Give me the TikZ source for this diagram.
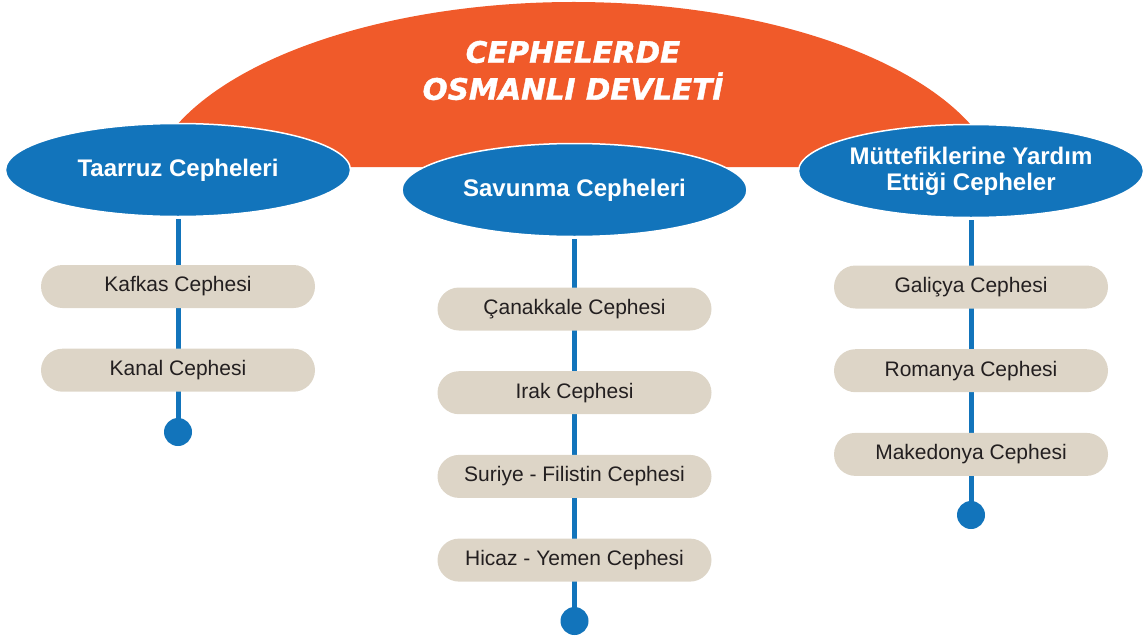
\documentclass[tikz,border=0pt]{standalone}
\usepackage{fontspec}
\setmainfont{Liberation Sans}
\newfontfamily\titlefont[FakeBold=1.3]{DejaVu Sans}
\usepackage{tikz}
\usetikzlibrary{shapes.geometric, positioning, backgrounds}

\definecolor{domeorange}{RGB}{240,90,42}
\definecolor{frontblue}{RGB}{18,116,187}
\definecolor{pillbeige}{RGB}{221,213,199}
\definecolor{pilltext}{RGB}{35,31,32}

\tikzset{
  heading/.style={text=white, align=center, inner sep=0pt,
    font=\titlefont\bfseries\itshape\fontsize{29.5}{37}\selectfont},
  front/.style={ellipse, fill=frontblue, draw=white, line width=1.5pt,
    minimum width=345pt, minimum height=93pt, inner sep=0pt,
    text=white, align=center, font=\bfseries\fontsize{24}{26}\selectfont},
  pill/.style={rectangle, rounded corners=21.5pt, fill=pillbeige,
    minimum width=274pt, minimum height=43pt, inner sep=0pt,
    text=pilltext, font=\fontsize{21}{24}\selectfont},
  stem/.style={frontblue, line width=5pt},
  enddot/.style={circle, fill=frontblue, minimum size=28pt, inner sep=0pt},
}

\begin{document}
\begin{tikzpicture}[x=1pt, y=-1pt]
    \def\rowgap{83.7}
    \useasboundingbox (0,0) rectangle (1147,637);

    % orange dome behind the three fronts
    \fill[domeorange] (151,167) arc[start angle=189.6, end angle=350.4, x radius=429, y radius=198] -- cycle;
    \node[heading] (title) at (573,70.5) {CEPHELERDE\\OSMANLI DEVLETİ};

    \node[front] (attack) at (178,170) {Taarruz Cepheleri};
    \node[front] (defence) at (574.5,190) {Savunma Cepheleri};
    \node[front] (allied) at (971,171) {Müttefiklerine Yardım\\Ettiği Cepheler};

    % taarruz
    \node[pill] (kafkas) at (178,286.5) {Kafkas Cephesi};
    \node[pill] (kanal) at (178,286.5+\rowgap) {Kanal Cephesi};
    \node[enddot] (attackend) at (178,432) {};

    % savunma
    \node[pill] (canakkale) at (574.5,309) {Çanakkale Cephesi};
    \node[pill] (irak) at (574.5,309+\rowgap) {Irak Cephesi};
    \node[pill] (suriye) at (574.5,309+2*\rowgap) {Suriye - Filistin Cephesi};
    \node[pill] (hicaz) at (574.5,309+3*\rowgap) {Hicaz - Yemen Cephesi};
    \node[enddot] (defenceend) at (574.5,621) {};

    % yardim
    \node[pill] (galicya) at (971,287) {Galiçya Cephesi};
    \node[pill] (romanya) at (971,287+\rowgap) {Romanya Cephesi};
    \node[pill] (makedonya) at (971,287+2*\rowgap) {Makedonya Cephesi};
    \node[enddot] (alliedend) at (971,515) {};

    \begin{scope}[on background layer]
      \draw[stem] ([yshift=-2pt]attack.south) -- (attackend.center);
      \draw[stem] ([yshift=-2pt]defence.south) -- (defenceend.center);
      \draw[stem] ([yshift=-2pt]allied.south) -- (alliedend.center);
    \end{scope}
\end{tikzpicture}
\end{document}
